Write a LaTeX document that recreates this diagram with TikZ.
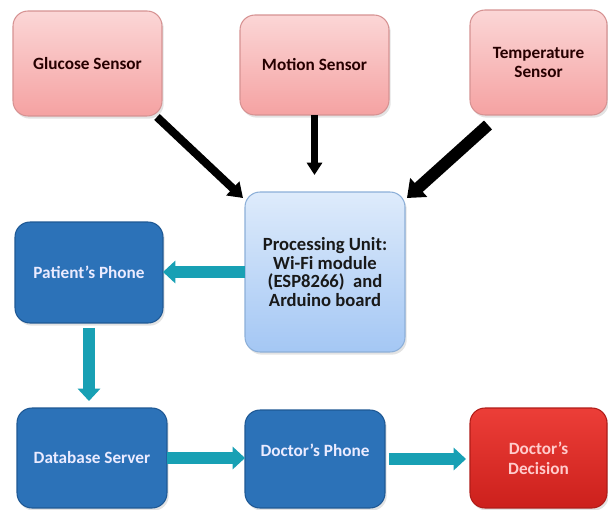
\documentclass[tikz,border=0pt]{standalone}
\usepackage{fontspec}
\setmainfont{Carlito}
\usetikzlibrary{arrows.meta,calc,shadows}

\definecolor{pinktop}{RGB}{251,214,214}
\definecolor{pinkbot}{RGB}{245,162,162}
\definecolor{pinkline}{RGB}{214,146,146}
\definecolor{proctop}{RGB}{222,235,251}
\definecolor{procbot}{RGB}{164,199,244}
\definecolor{procline}{RGB}{140,175,216}
\definecolor{phoneblue}{RGB}{44,114,184}
\definecolor{phoneline}{RGB}{30,88,148}
\definecolor{redtop}{RGB}{236,62,56}
\definecolor{redbot}{RGB}{204,32,28}
\definecolor{redline}{RGB}{176,28,24}
\definecolor{flowteal}{RGB}{24,160,180}

\begin{document}
\begin{tikzpicture}[x=0.02cm,y=-0.02cm]
    \tikzset{box/.style = {rectangle, rounded corners=8.5pt, draw, line width=0.6pt,
        inner sep=0pt, outer sep=0pt, align=center,
        font=\fontsize{9.8}{11.3}\selectfont\bfseries,
        drop shadow={shadow xshift=1pt, shadow yshift=-1.5pt, opacity=0.22}}}
    \tikzset{sensor/.style = {box, draw=pinkline, top color=pinktop, bottom color=pinkbot, text=black!85!red}}
    \tikzset{unit/.style = {box, draw=procline, top color=proctop, bottom color=procbot, text=black!90,
        font=\fontsize{10.6}{10.6}\selectfont\bfseries}}
    \tikzset{phone/.style = {box, draw=phoneline, fill=phoneblue, text=blue!8}}
    \tikzset{verdict/.style = {box, draw=redline, top color=redtop, bottom color=redbot, text=red!20}}
    \tikzset{feed/.style = {line width=4.6pt, -{Triangle[length=8pt,width=10.5pt]}}}
    \tikzset{flow/.style = {flowteal, line width=6.8pt, -{Triangle[length=7pt,width=12.5pt]}}}
    \useasboundingbox (0,0) rectangle (608,510);

    \node[sensor, minimum width=2.98cm, minimum height=2.1cm] (glucose) at (87.5,63.5) {Glucose Sensor};
    \node[sensor, minimum width=2.98cm, minimum height=2cm] (motion) at (314.5,65) {Motion Sensor};
    \node[sensor, minimum width=2.74cm, minimum height=2.1cm] (temp) at (538.5,62.5) {Temperature\\Sensor};
    \node[unit, minimum width=3.2cm, minimum height=3.2cm] (proc) at (325,272)
        {Processing Unit:\\Wi-Fi module\\(ESP8266)~ and\\Arduino board};
    \node[phone, minimum width=2.96cm, minimum height=2.02cm] (patient) at (89,272.5) {Patient’s Phone};
    \node[phone, minimum width=3cm, minimum height=2cm] (db) at (92,458) {Database Server};
    \node[phone, minimum width=2.8cm, minimum height=1.96cm] (docphone) at (315,459)
        {\raisebox{5pt}[\height][\depth]{Doctor’s Phone}};
    \node[verdict, minimum width=2.74cm, minimum height=2cm] (decision) at (538.5,458) {Doctor’s\\Decision};

    % sensors into the processing unit
    \draw[feed] ($(glucose.south east)+(-5,1)$) to ($(proc.north west)+(-2,6)$);
    \draw[feed, line width=4.2pt, -{Triangle[length=7pt,width=8.5pt]}, shorten >=0.34cm]
        (motion.south) to (motion.south |- proc.north);
    \draw[feed, line width=6.8pt, -{Triangle[length=9pt,width=14pt]}]
        ($(temp.south west)+(18,10)$) to ($(proc.north east)+(2,6)$);

    % data path
    \draw[flow] (proc.west) to (proc.west -| patient.east);
    \draw[flow, shorten <=0.1cm, shorten >=0.14cm] (patient.south) to (patient.south |- db.north);
    \draw[flow] (db.east) to (db.east -| docphone.west);
    \draw[flow, shorten <=0.08cm, shorten >=0.08cm] (docphone.east) to (docphone.east -| decision.west);
\end{tikzpicture}
\end{document}
